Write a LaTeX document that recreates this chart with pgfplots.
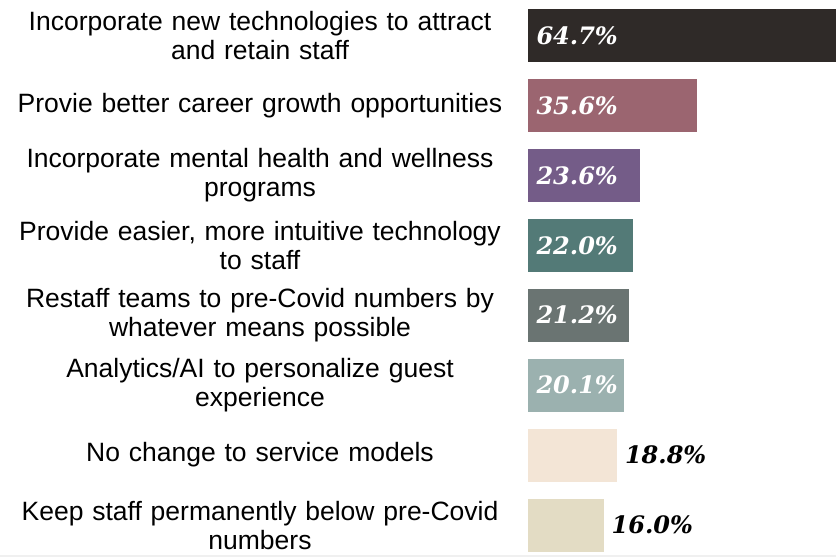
\documentclass[border=0pt]{standalone}
\usepackage{fontspec}
\setmainfont{Liberation Sans}
\newfontfamily\valfont{DejaVu Serif}
\usepackage{pgfplots}
\pgfplotsset{compat=1.18}
\definecolor{c1}{HTML}{2F2A28}
\definecolor{c2}{HTML}{9B6570}
\definecolor{c3}{HTML}{745C88}
\definecolor{c4}{HTML}{537A77}
\definecolor{c5}{HTML}{6A7472}
\definecolor{c6}{HTML}{9BB1AF}
\definecolor{c7}{HTML}{F3E5D6}
\definecolor{c8}{HTML}{E3DCC4}
\begin{document}
\begin{tikzpicture}
\path[use as bounding box] (0,0) rectangle (836pt,557pt);
\fill[black!6] (0,0) rectangle (836pt,2pt);
\begin{axis}[
  at={(528pt,-3pt)}, anchor=south west,
  scale only axis, width=308pt, height=559.4pt,
  xmin=0, xmax=64.7, ymin=-0.5, ymax=7.5,
  clip=false,
  axis line style={draw=none},
  major tick length=0pt,
  xtick=\empty,
  ytick={0,1,2,3,4,5,6,7},
  yticklabels={
    {Keep staff permanently below pre-Covid\\numbers},
    {No change to service models},
    {Analytics/AI to personalize guest\\experience},
    {Restaff teams to pre-Covid numbers by\\whatever means possible},
    {Provide easier, more intuitive technology\\to staff},
    {Incorporate mental health and wellness\\programs},
    {Provie better career growth opportunities},
    {Incorporate new technologies to attract\\and retain staff}},
  yticklabel style={anchor=center, text width=500pt, align=center, xshift=-268pt,
    font=\fontsize{26.5}{29}\selectfont, text=black},
]
\addplot[xbar, bar width=53pt, bar shift=0pt, fill=c1, draw=none] coordinates {(64.7,7)};
\addplot[xbar, bar width=53pt, bar shift=0pt, fill=c2, draw=none] coordinates {(35.6,6)};
\addplot[xbar, bar width=53pt, bar shift=0pt, fill=c3, draw=none] coordinates {(23.6,5)};
\addplot[xbar, bar width=53pt, bar shift=0pt, fill=c4, draw=none] coordinates {(22.0,4)};
\addplot[xbar, bar width=53pt, bar shift=0pt, fill=c5, draw=none] coordinates {(21.2,3)};
\addplot[xbar, bar width=53pt, bar shift=0pt, fill=c6, draw=none] coordinates {(20.1,2)};
\addplot[xbar, bar width=53pt, bar shift=0pt, fill=c7, draw=none] coordinates {(18.8,1)};
\addplot[xbar, bar width=53pt, bar shift=0pt, fill=c8, draw=none] coordinates {(16.0,0)};
\addplot[draw=none, nodes near coords, point meta=explicit symbolic,
  nodes near coords style={anchor=west, xshift=5pt, text=white,
    font={\valfont\bfseries\itshape\fontsize{24}{26}\selectfont}}]
  coordinates {(0,7)[64.7\%] (0,6)[35.6\%] (0,5)[23.6\%] (0,4)[22.0\%] (0,3)[21.2\%] (0,2)[20.1\%]};
\addplot[draw=none, nodes near coords, point meta=explicit symbolic,
  nodes near coords style={anchor=west, xshift=4pt, text=black,
    font={\valfont\bfseries\itshape\fontsize{24}{26}\selectfont}}]
  coordinates {(18.8,1)[18.8\%] (16.0,0)[16.0\%]};
\end{axis}
\end{tikzpicture}
\end{document}
